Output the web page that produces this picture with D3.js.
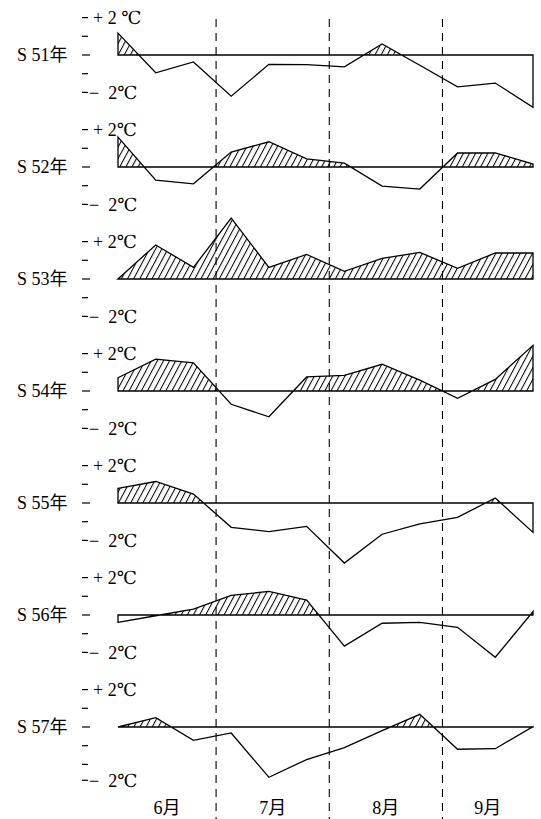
<!DOCTYPE html>
<html><head><meta charset="utf-8">
<script src="https://cdn.jsdelivr.net/npm/d3@7"></script>
<style>body{margin:0;background:#fff}</style>
</head><body>
<script>
// ---- data ----
const years = ["S 51年","S 52年","S 53年","S 54年","S 55年","S 56年","S 57年"];
const dekads = ["6月上旬","6月中旬","6月下旬","7月上旬","7月中旬","7月下旬",
                "8月上旬","8月中旬","8月下旬","9月上旬","9月中旬","9月下旬"];
const months = ["6月","7月","8月","9月"];
const monthStarts = [0, 2.6, 5.6, 8.6];           // in dekad units
const s51 = [1.17,-0.95,-0.37,-2.2,-0.5,-0.52,-0.63,0.59,-0.55,-1.7,-1.5,-2.8];
const s52 = [1.6,-0.7,-0.9,0.8,1.35,0.43,0.21,-1.02,-1.18,0.75,0.75,0.16];
const s53 = [0,1.82,0.62,3.26,0.62,1.31,0.41,1.1,1.42,0.57,1.39,1.39];
const s54 = [0.71,1.7,1.51,-0.71,-1.38,0.75,0.84,1.43,0.58,-0.39,0.62,2.44];
const s55 = [0.78,1.15,0.48,-1.3,-1.53,-1.25,-3.21,-1.67,-1.12,-0.77,0.27,-1.57];
const s56 = [-0.39,-0.04,0.32,1.05,1.26,0.8,-1.66,-0.44,-0.39,-0.66,-2.26,0.18];
const s57 = [0,0.5,-0.71,-0.32,-2.69,-1.74,-1.1,-0.19,0.68,-1.19,-1.16,0.02];
const series = [s51,s52,s53,s54,s55,s56,s57];
const upperLabels = ["+ 2 ℃","+ 2℃","+ 2℃","+ 2℃","+ 2℃","+ 2℃","+ 2℃"];
const lowerLabels = ["−  2℃","−  2℃","−  2℃","−  2℃","−  2℃","−  2℃","−  2℃"];
const tickVals = [2,1,0,-1,-2];
const lowerLabelValue = [-2,-2,-2,-2,-2,-2,-2.85];

// ---- layout ----
const W = 541, H = 819;
const FONT = "Liberation Serif, Times New Roman, DejaVu Serif, Noto Sans CJK JP, serif";
const FS = 18;
const svg = d3.select("body").append("svg").attr("width",W).attr("height",H);

const x = d3.scaleLinear().domain([0, dekads.length-1]).range([118, 533]);
const baseY = d3.scalePoint().domain(years).range([55, 727]);
const unit = 18.7; // px per °C

const defs = svg.append("defs");
const pat = defs.append("pattern").attr("id","hatch")
  .attr("patternUnits","userSpaceOnUse").attr("width",5.4).attr("height",10)
  .attr("patternTransform","rotate(28)");
pat.append("line").attr("x1",0.5).attr("y1",0).attr("x2",0.5).attr("y2",10)
  .attr("stroke","#000").attr("stroke-width",1.05);

// dashed month separators
svg.selectAll("line.sep").data(monthStarts.slice(1)).join("line")
  .attr("class","sep")
  .attr("x1",d=>x(d)).attr("x2",d=>x(d)).attr("y1",19).attr("y2",H)
  .attr("stroke","#000").attr("stroke-width",1.1).attr("stroke-dasharray","8,6");

function label(g, xx, yy, str, anchor) {
  return g.append("text").attr("x",xx).attr("y",yy).attr("dy","0.36em")
    .attr("font-family",FONT).attr("font-size",FS)
    .attr("text-anchor",anchor||"start")
    .style("white-space","pre").text(str);
}

years.forEach((yr, k) => {
  const b = baseY(yr);
  const y = d3.scaleLinear().domain([-2,2]).range([b+2*unit, b-2*unit]);
  const g = svg.append("g");
  const vals = series[k];

  // ticks
  const tv = tickVals.concat(lowerLabelValue[k] < -2 ? [lowerLabelValue[k]] : []);
  g.selectAll("line.tick").data(tv).join("line")
    .attr("x1",82).attr("x2",d=>d===0?90:88)
    .attr("y1",d=>y(d)).attr("y2",d=>y(d))
    .attr("stroke","#000").attr("stroke-width",1.2);

  label(g, 17, y(0), yr);
  label(g, 93, y(2), upperLabels[k]);
  label(g, 89, y(lowerLabelValue[k]), lowerLabels[k]);

  // hatched positive area
  const clipId = "clip"+k;
  defs.append("clipPath").attr("id",clipId).append("rect")
    .attr("x",x(0)-1).attr("width",x(11)-x(0)+2)
    .attr("y",y(0)-5*unit).attr("height",5*unit);
  const area = d3.area().x((d,i)=>x(i)).y0(y(0)).y1(d=>y(d));
  g.append("path").datum(vals).attr("d",area)
    .attr("fill","url(#hatch)").attr("clip-path",`url(#${clipId})`);

  // outline: baseline, end verticals, curve
  g.append("path").datum(vals).attr("d", d=>area(d)+"Z")
    .attr("fill","none").attr("stroke","#000").attr("stroke-width",1.3)
    .attr("stroke-linejoin","miter");
});

// month labels
const mg = svg.append("g");
months.forEach((m,i) => {
  const a = monthStarts[i], e = i < months.length-1 ? monthStarts[i+1] : dekads.length-1;
  label(mg, x((a+e)/2), 808, m, "middle");
});
</script>
</body></html>
